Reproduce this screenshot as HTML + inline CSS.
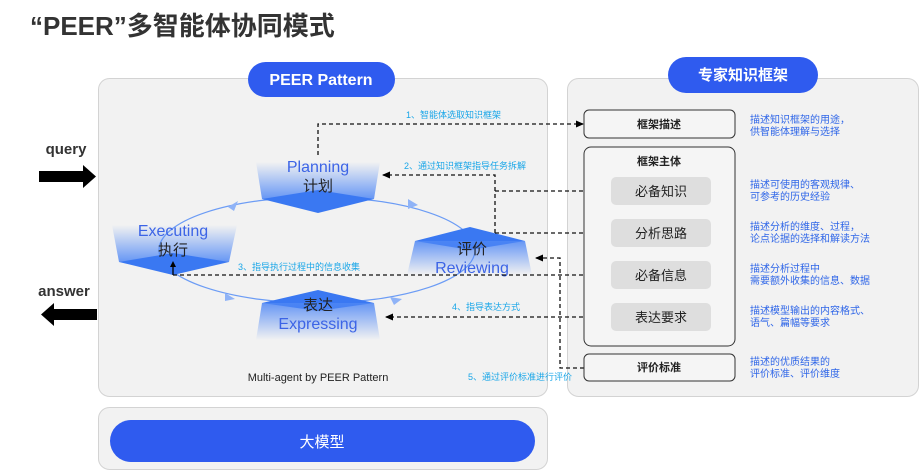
<!DOCTYPE html>
<html><head><meta charset="utf-8"><style>
body{margin:0;width:920px;height:472px;background:#fff;overflow:hidden;font-family:"Liberation Sans","Noto Sans CJK SC",sans-serif;}
</style></head><body>
<svg width="920" height="472" viewBox="0 0 920 472" xmlns="http://www.w3.org/2000/svg" style="position:absolute;left:0;top:0">
<defs>
<linearGradient id="gd" x1="0" y1="0" x2="0" y2="1"><stop offset="0" stop-color="#4d86f5" stop-opacity="0"/><stop offset="1" stop-color="#4d86f5" stop-opacity="0.85"/></linearGradient>
<linearGradient id="gu" x1="0" y1="1" x2="0" y2="0"><stop offset="0" stop-color="#4d86f5" stop-opacity="0"/><stop offset="1" stop-color="#4d86f5" stop-opacity="0.85"/></linearGradient>
<marker id="ah" markerWidth="8" markerHeight="8" refX="7" refY="4" orient="auto" markerUnits="userSpaceOnUse"><path d="M0,0.5 L8,4 L0,7.5z" fill="#000"/></marker>
</defs>
<style>
text{font-family:"Liberation Sans","Noto Sans CJK SC",sans-serif;}
.dash{stroke:#111;stroke-width:1.3;stroke-dasharray:4,3;fill:none}
.lbl{fill:#19a6e8;font-size:9px}
.desc{fill:#2f66e8;font-size:10px}
</style>
<text x="30" y="35" font-size="26" font-weight="bold" fill="#333">“PEER”多智能体协同模式</text>
<rect x="98.5" y="78.5" width="449" height="318" rx="11" fill="#f2f2f2" stroke="#d3d3d3"/>
<rect x="567.5" y="78.5" width="351" height="318" rx="11" fill="#f2f2f2" stroke="#d3d3d3"/>
<rect x="98.5" y="407.5" width="449" height="62" rx="11" fill="#f2f2f2" stroke="#d3d3d3"/>
<rect x="110" y="420" width="425" height="42" rx="21" fill="#2f5bef"/>
<text x="322" y="447" font-size="15" fill="#fff" text-anchor="middle">大模型</text>
<rect x="248" y="62" width="147" height="35" rx="17.5" fill="#2f5bef"/>
<text x="321" y="85" font-size="16" font-weight="bold" fill="#fff" text-anchor="middle">PEER Pattern</text>
<rect x="668" y="57" width="150" height="36" rx="18" fill="#2f5bef"/>
<text x="743" y="80" font-size="15" font-weight="bold" fill="#fff" text-anchor="middle">专家知识框架</text>
<text x="66" y="154" font-size="15" font-weight="bold" fill="#333" text-anchor="middle">query</text>
<path d="M39,171 H83 V165 L96,176.5 L83,188 V182 H39z" fill="#000"/>
<text x="64" y="296" font-size="15" font-weight="bold" fill="#333" text-anchor="middle">answer</text>
<path d="M97,309 H54 V303 L41,314.5 L54,326 V320 H97z" fill="#000"/>
<ellipse cx="317" cy="250" rx="158" ry="53" fill="none" stroke="#6c9cf5" stroke-width="1.2"/>
<path d="M228,207 l10,-6 l-4,10z" fill="#8fb3f7"/>
<path d="M408,199 l10,6 l-10,4z" fill="#8fb3f7"/>
<path d="M225,293 l10,6 l-10,2z" fill="#8fb3f7"/>
<path d="M390,297 l12,2 l-8,6z" fill="#8fb3f7"/>
<polygon points="256,162 380,162 374,199 262,199" fill="url(#gd)"/>
<polygon points="262,199 318,190 374,199 318,213" fill="#3a78f2"/>
<text x="318" y="172" font-size="16" fill="#3c64e6" text-anchor="middle">Planning</text>
<text x="318" y="191" font-size="15" fill="#222" text-anchor="middle">计划</text>
<polygon points="112,225 237,225 229,262 119,262" fill="url(#gd)"/>
<polygon points="119,262 173,253 229,262 173,275" fill="#3a78f2"/>
<text x="173" y="236" font-size="16" fill="#3c64e6" text-anchor="middle">Executing</text>
<text x="173" y="255" font-size="15" fill="#222" text-anchor="middle">执行</text>
<polygon points="415,241 470,227 525,241 470,250" fill="#3a78f2"/>
<polygon points="415,241 525,241 532,275 407,275" fill="url(#gu)"/>
<text x="472" y="254" font-size="15" fill="#222" text-anchor="middle">评价</text>
<text x="472" y="273" font-size="16" fill="#3c64e6" text-anchor="middle">Reviewing</text>
<polygon points="262,303 318,290 374,303 318,311" fill="#3a78f2"/>
<polygon points="262,303 374,303 380,340 256,340" fill="url(#gu)"/>
<text x="318" y="310" font-size="15" fill="#222" text-anchor="middle">表达</text>
<text x="318" y="329" font-size="16" fill="#3c64e6" text-anchor="middle">Expressing</text>
<text x="318" y="381" font-size="11" fill="#222" text-anchor="middle">Multi-agent by PEER Pattern</text>
<path class="dash" d="M318,155 V124 H583" marker-end="url(#ah)"/>
<text class="lbl" x="406" y="118">1、智能体选取知识框架</text>
<path class="dash" d="M495,233 V175 H383" marker-end="url(#ah)"/>
<path class="dash" d="M495,191 H611 M495,233 H611"/>
<text class="lbl" x="404" y="169">2、通过知识框架指导任务拆解</text>
<path class="dash" d="M173,275 H611"/>
<path d="M173,275 V266" stroke="#000" stroke-width="1.3"/><path d="M170,267 L173,261 L176,267z" fill="#000"/>
<text class="lbl" x="238" y="270">3、指导执行过程中的信息收集</text>
<path class="dash" d="M611,317 H386" marker-end="url(#ah)"/>
<text class="lbl" x="452" y="310">4、指导表达方式</text>
<path class="dash" d="M584,368 H560 V258 H536" marker-end="url(#ah)"/>
<text class="lbl" x="468" y="380">5、通过评价标准进行评价</text>
<rect x="584" y="110" width="151" height="28" rx="5" fill="#f5f5f5" stroke="#333"/>
<text x="659" y="128" font-size="11" font-weight="bold" fill="#222" text-anchor="middle">框架描述</text>
<rect x="584" y="147" width="151" height="199" rx="7" fill="#f5f5f5" stroke="#333"/>
<text x="659" y="165" font-size="11" font-weight="bold" fill="#222" text-anchor="middle">框架主体</text>
<rect x="611" y="177" width="100" height="28" rx="5" fill="#dedede"/>
<text x="661" y="196" font-size="13" fill="#222" text-anchor="middle">必备知识</text>
<rect x="611" y="219" width="100" height="28" rx="5" fill="#dedede"/>
<text x="661" y="238" font-size="13" fill="#222" text-anchor="middle">分析思路</text>
<rect x="611" y="261" width="100" height="28" rx="5" fill="#dedede"/>
<text x="661" y="280" font-size="13" fill="#222" text-anchor="middle">必备信息</text>
<rect x="611" y="303" width="100" height="28" rx="5" fill="#dedede"/>
<text x="661" y="322" font-size="13" fill="#222" text-anchor="middle">表达要求</text>
<rect x="584" y="354" width="151" height="27" rx="5" fill="#f5f5f5" stroke="#333"/>
<text x="659" y="371" font-size="11" font-weight="bold" fill="#222" text-anchor="middle">评价标准</text>
<text class="desc" x="750" y="123">描述知识框架的用途，</text>
<text class="desc" x="750" y="135">供智能体理解与选择</text>
<text class="desc" x="750" y="188">描述可使用的客观规律、</text>
<text class="desc" x="750" y="200">可参考的历史经验</text>
<text class="desc" x="750" y="230">描述分析的维度、过程，</text>
<text class="desc" x="750" y="242">论点论据的选择和解读方法</text>
<text class="desc" x="750" y="272">描述分析过程中</text>
<text class="desc" x="750" y="284">需要额外收集的信息、数据</text>
<text class="desc" x="750" y="314">描述模型输出的内容格式、</text>
<text class="desc" x="750" y="326">语气、篇幅等要求</text>
<text class="desc" x="750" y="365">描述的优质结果的</text>
<text class="desc" x="750" y="377">评价标准、评价维度</text>
</svg>
</body></html>
